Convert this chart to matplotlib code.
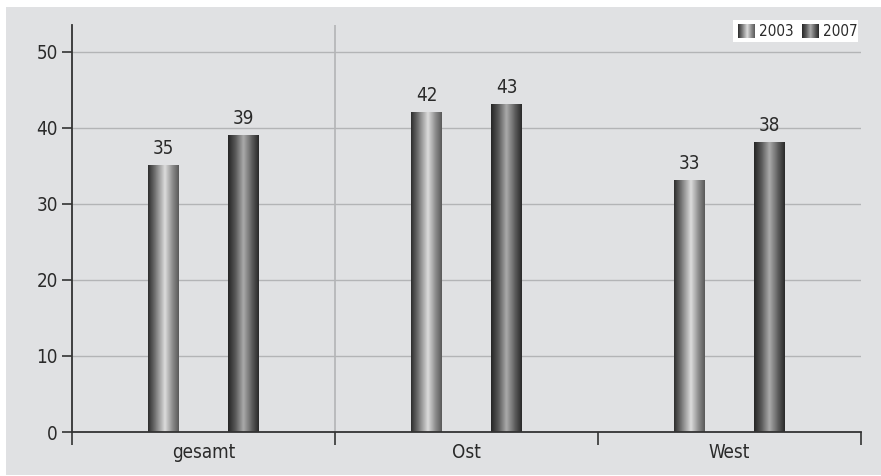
import matplotlib
matplotlib.use('Agg')
import matplotlib.pyplot as plt
from matplotlib.colors import LinearSegmentedColormap
from matplotlib.patches import Rectangle
import numpy as np

# Daten
kategorien = ['gesamt', 'Ost', 'West']
jahre = ['2003', '2007']
werte_2003 = [35, 42, 33]
werte_2007 = [39, 43, 38]

plt.rcParams['font.family'] = ['DejaVu Sans']
plt.rcParams['font.stretch'] = 'condensed'

hintergrund = '#e0e1e3'
gitter = '#b3b4b6'
textfarbe = '#2a2a2a'

# Zylinder-Verlauf fuer die Saeulen
cmap_2003 = LinearSegmentedColormap.from_list('c2003', [
    (0.0, '#2e2e2e'), (0.25, '#7a7a7a'), (0.55, '#dcdcdc'), (0.8, '#8c8c8c'), (1.0, '#5a5a5a')])
cmap_2007 = LinearSegmentedColormap.from_list('c2007', [
    (0.0, '#262626'), (0.25, '#5c5c5c'), (0.5, '#ababab'), (0.78, '#5e5e5e'), (1.0, '#2a2a2a')])
verlauf = np.linspace(0, 1, 64).reshape(1, -1)

fig = plt.figure(figsize=(8.81, 4.76), dpi=100)
fig.patch.set_facecolor('white')
fig.patches.append(Rectangle((6 / 881, 1 / 476), 875 / 881, 468 / 476,
                             transform=fig.transFigure, facecolor=hintergrund,
                             edgecolor='none', zorder=-5))

ax = fig.add_axes([72 / 881, 1 - 432 / 476, 789 / 881, 407 / 476])
ax.set_facecolor('none')

x = np.arange(len(kategorien))
breite = 0.116
versatz = [-0.152, 0.153]

for reihe, cmap, dx in [(werte_2003, cmap_2003, versatz[0]),
                        (werte_2007, cmap_2007, versatz[1])]:
    for xi, v in zip(x, reihe):
        x0 = xi + dx - breite / 2
        ax.imshow(verlauf, cmap=cmap, extent=[x0, x0 + breite, 0, v],
                  aspect='auto', zorder=3, interpolation='bilinear')
        ax.text(xi + dx, v + 1.0, str(v), ha='center', va='bottom',
                fontsize=13.5, color=textfarbe, zorder=4)

ax.set_xlim(-0.5, 2.5)
ax.set_ylim(0, 53.5)

# Gitter
for yv in range(10, 51, 10):
    ax.axhline(yv, color=gitter, lw=1, zorder=1)
ax.axvline(0.5, color=gitter, lw=1.2, zorder=1)

# Achsen
for s in ['top', 'right']:
    ax.spines[s].set_visible(False)
for s in ['left', 'bottom']:
    ax.spines[s].set_color('#333333')
    ax.spines[s].set_linewidth(1.3)
    ax.spines[s].set_zorder(5)

ax.set_yticks(range(0, 51, 10))
ax.tick_params(axis='y', direction='out', length=7, width=1.2, color='#333333',
               labelsize=13.5, labelcolor=textfarbe, pad=3)

ax.set_xticks([-0.5, 0.5, 1.5, 2.5])
ax.set_xticklabels([])
ax.tick_params(axis='x', which='major', direction='out', length=9, width=1.2,
               color='#333333')
ax.set_xticks(x, minor=True)
ax.set_xticklabels(kategorien, minor=True)
ax.tick_params(axis='x', which='minor', length=0, labelsize=13.5,
               labelcolor=textfarbe, pad=8)

# Legende
lax = fig.add_axes([733 / 881, 1 - 42 / 476, 125 / 881, 22 / 476])
lax.set_xlim(0, 125)
lax.set_ylim(0, 22)
lax.set_facecolor('white')
lax.set_xticks([])
lax.set_yticks([])
for s in lax.spines.values():
    s.set_visible(False)
for lx, cmap, jahr in [(5, cmap_2003, jahre[0]), (69, cmap_2007, jahre[1])]:
    lax.imshow(verlauf, cmap=cmap, extent=[lx, lx + 17, 4, 18], aspect='auto')
    lax.text(lx + 21, 11, jahr, va='center', ha='left', fontsize=11,
             color=textfarbe)

plt.savefig('out.png', dpi=100, facecolor='white')
